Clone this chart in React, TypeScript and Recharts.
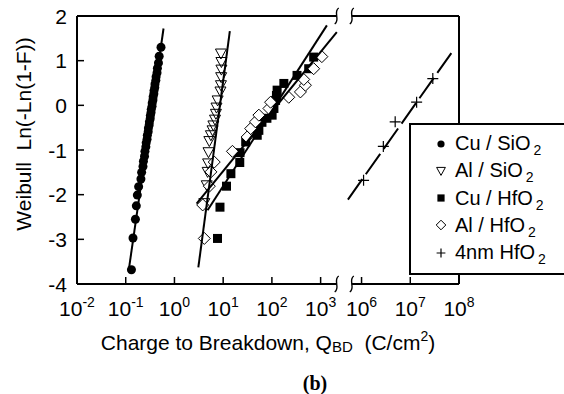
import React from 'react';
import {
  ComposedChart,
  Scatter,
  XAxis,
  YAxis,
  ReferenceLine,
  ReferenceDot,
  Legend,
} from 'recharts';

const FONT = '"Liberation Sans", Arial, Helvetica, sans-serif';

// x axis is log10(Q) with a break between 10^3 and 10^6
const xTickExp = [-2, -1, 0, 1, 2, 3, 6, 7, 8];
const yTicks = [-4, -3, -2, -1, 0, 1, 2];
const GAP = 0.84;             // width of the cut-out part, in decades
const X_MAX = 8 - 1 + GAP;
const breakPos = [5.33, 5.64];

// Cu / SiO2
const cuSiO2Q = [0.131, 0.141, 0.158, 0.165, 0.173, 0.184, 0.205, 0.212, 0.226, 0.231, 0.243, 0.248, 0.259,
  0.263, 0.274, 0.278, 0.289, 0.292, 0.303, 0.306, 0.318, 0.320, 0.331, 0.334, 0.347, 0.349, 0.362, 0.365,
  0.378, 0.381, 0.395, 0.399, 0.415, 0.420, 0.439, 0.447, 0.470, 0.486, 0.530];
const cuSiO2W = [-3.68, -2.97, -2.55, -2.25, -2.01, -1.82, -1.65, -1.50, -1.37, -1.25, -1.14, -1.03, -0.93,
  -0.84, -0.76, -0.67, -0.59, -0.51, -0.44, -0.37, -0.30, -0.23, -0.16, -0.09, -0.02, 0.05, 0.12, 0.19,
  0.26, 0.33, 0.40, 0.48, 0.56, 0.64, 0.73, 0.83, 0.95, 1.10, 1.30];

// Al / SiO2
const alSiO2Q = [9.0, 9.2, 9.2, 9.1, 9.0, 8.8, 7.7, 7.3, 7.1, 6.8, 6.3, 6.05, 5.6, 5.2, 5.0, 4.9, 4.8, 4.6, 4.1];
const alSiO2W = [1.16, 0.97, 0.80, 0.63, 0.45, 0.31, 0.11, -0.05, -0.19, -0.32, -0.45, -0.56, -0.67, -0.80,
  -1.05, -1.30, -1.49, -1.79, -2.19];

// Cu / HfO2
const cuHfO2Q = [7.65, 8.6, 11.7, 14.4, 21.9, 22.2, 29, 50, 54, 62.5, 79, 101, 110, 119, 124, 128, 176, 328, 569, 720];
const cuHfO2W = [-2.98, -2.28, -1.81, -1.53, -1.28, -1.06, -0.82, -0.67, -0.56, -0.38, -0.29, -0.22, -0.07,
  0.11, 0.22, 0.34, 0.49, 0.67, 0.82, 1.08];

// Al / HfO2
const alHfO2Q = [4.1, 3.8, 5.2, 5.6, 6.55, 15.5, 31, 36.7, 46, 54, 87, 94, 222, 385, 487, 450, 720, 1060];
const alHfO2W = [-2.98, -2.23, -1.81, -1.49, -1.27, -1.03, -0.71, -0.52, -0.37, -0.22, -0.07, 0.07, 0.18,
  0.30, 0.45, 0.58, 0.82, 1.09];

// 4nm HfO2
const hfo2Q = [1.1e6, 2.8e6, 4.9e6, 1.35e7, 2.9e7];
const hfo2W = [-1.68, -0.92, -0.37, 0.07, 0.60];

// fitted lines (end points)
const cuSiO2FitQ = [0.115, 0.597];
const cuSiO2FitW = [-3.7, 1.72];
const alSiO2FitQ = [3.09, 13.7];
const alSiO2FitW = [-3.63, 1.66];
const cuHfO2FitQ = [4.78, 1345];
const cuHfO2FitW = [-2.35, 1.79];
const alHfO2FitQ = [2.85, 2150];
const alHfO2FitW = [-2.2, 1.64];
const hfo2FitQ = [5.25e5, 6.96e7];
const hfo2FitW = [-2.11, 1.17];

const legendNames = ['Cu / SiO', 'Al / SiO', 'Cu / HfO', 'Al / HfO', '4nm HfO'];
const legendMarks = ['dot', 'tri', 'sq', 'dia', 'plus'];

const pos = (q: number) => {
  const e = Math.log10(q);
  return e < 4.5 ? e + 2 : e - 1 + GAP;
};
const expToPos = (e: number) => (e <= 3 ? e + 2 : e - 1 + GAP);
const toPoints = (q: number[], w: number[]) => q.map((v, i) => ({ x: pos(v), y: w[i] }));

const Mark = ({ kind, cx, cy, s = 1 }: { kind: string; cx: number; cy: number; s?: number }) => {
  if (kind === 'dot') return <circle cx={cx} cy={cy} r={4.5 * s} fill="#000" />;
  if (kind === 'tri')
    return (
      <path
        d={`M${cx - 5.5 * s},${cy - 4.5 * s}L${cx + 5.5 * s},${cy - 4.5 * s}L${cx},${cy + 5.5 * s}Z`}
        fill="none"
        stroke="#000"
        strokeWidth={1}
      />
    );
  if (kind === 'sq') return <rect x={cx - 4.5 * s} y={cy - 4.5 * s} width={9 * s} height={9 * s} fill="#000" />;
  if (kind === 'dia')
    return (
      <path
        d={`M${cx},${cy - 6 * s}L${cx + 6 * s},${cy}L${cx},${cy + 6 * s}L${cx - 6 * s},${cy}Z`}
        fill="#fff"
        stroke="#000"
        strokeWidth={1}
      />
    );
  return (
    <path
      d={`M${cx - 5.5 * s},${cy}H${cx + 5.5 * s}M${cx},${cy - 5.5 * s}V${cy + 5.5 * s}`}
      stroke="#000"
      strokeWidth={1.2}
    />
  );
};

const shapeOf = (kind: string) => (p: any) => <Mark kind={kind} cx={p.cx} cy={p.cy} />;
const NoShape = () => <g />;

const BreakMark = (p: any) => (
  <path
    d={`M${p.cx + 2},${p.cy - 8}C${p.cx - 4},${p.cy - 4} ${p.cx + 4},${p.cy + 4} ${p.cx - 2},${p.cy + 8}`}
    fill="none"
    stroke="#000"
    strokeWidth={1.4}
  />
);

const XTick = (props: any) => {
  const { x, y, payload } = props;
  const v = payload.value;
  const e = Math.round(v <= 5.01 ? v - 2 : v + 1 - GAP);
  return (
    <g>
      <line x1={x} x2={x} y1={y} y2={y - 7} stroke="#000" strokeWidth={1.5} />
      <text x={x} y={y + 32} textAnchor="middle" fontFamily={FONT} fontSize={21} fill="#000">
        10
        <tspan dy={-9} fontSize={14}>
          {e}
        </tspan>
      </text>
    </g>
  );
};

const YTick = (props: any) => {
  const { x, y, payload } = props;
  return (
    <g>
      <line x1={x} x2={x + 7} y1={y} y2={y} stroke="#000" strokeWidth={1.5} />
      <text x={x - 10} y={y + 7.5} textAnchor="end" fontFamily={FONT} fontSize={21} fill="#000">
        {payload.value}
      </text>
    </g>
  );
};

const XTitle = () => (
  <g>
    <text x={268} y={350} textAnchor="middle" fontFamily={FONT} fontSize={21} fill="#000">
      Charge to Breakdown, Q
      <tspan fontSize={15} dy={2}>
        BD
      </tspan>
      <tspan dy={-2}>{'\u00a0\u00a0(C/cm'}</tspan>
      <tspan dy={-9} fontSize={14}>
        2
      </tspan>
      <tspan dy={9}>)</tspan>
    </text>
    <text
      x={315}
      y={390}
      textAnchor="middle"
      fontFamily='"Liberation Serif", "Times New Roman", serif'
      fontWeight="bold"
      fontSize={20}
      fill="#000"
    >
      (b)
    </text>
  </g>
);

const YTitle = () => (
  <text
    x={23}
    y={134}
    transform="rotate(-90, 23, 134)"
    textAnchor="middle"
    dominantBaseline="central"
    fontFamily={FONT}
    fontSize={21}
    fill="#000"
  >
    {'Weibull\u00a0\u00a0Ln(-Ln(1-F))'}
  </text>
);

const LegendBox = () => (
  <div
    style={{
      width: 160,
      height: 152,
      boxSizing: 'border-box',
      border: '2px solid #000',
      background: '#fff',
      fontFamily: FONT,
      fontSize: 20,
      paddingTop: 5,
    }}
  >
    {legendNames.map((name, i) => (
      <div key={name} style={{ height: 27.25, display: 'flex', alignItems: 'center' }}>
        <svg width={42} height={16} style={{ flex: 'none' }}>
          <Mark kind={legendMarks[i]} cx={30} cy={8} s={0.8} />
        </svg>
        <span style={{ whiteSpace: 'nowrap', marginLeft: 2 }}>
          {name}
          <span style={{ fontSize: 14, position: 'relative', top: 5, marginLeft: 3 }}>2</span>
        </span>
      </div>
    ))}
  </div>
);

export default function App() {
  return (
    <div style={{ position: 'absolute', left: 0, top: 0, width: 564, height: 394, overflow: 'hidden' }}>
      <ComposedChart width={564} height={394} margin={{ top: 16, right: 105, bottom: 70, left: 17 }}>
        <XAxis
          type="number"
          dataKey="x"
          domain={[0, X_MAX]}
          ticks={xTickExp.map(expToPos)}
          interval={0}
          allowDataOverflow
          height={40}
          axisLine={false}
          tickLine={false}
          tickSize={0}
          tickMargin={0}
          tick={XTick}
          label={XTitle}
        />
        <YAxis
          type="number"
          dataKey="y"
          domain={[-4, 2]}
          ticks={yTicks}
          interval={0}
          allowDataOverflow
          width={60}
          axisLine={{ stroke: '#000', strokeWidth: 2 }}
          tickLine={false}
          tickSize={0}
          tickMargin={0}
          tick={YTick}
          label={YTitle}
        />

        <ReferenceLine segment={[{ x: 0, y: 2 }, { x: breakPos[0], y: 2 }]} stroke="#000" strokeWidth={2} />
        <ReferenceLine segment={[{ x: breakPos[1], y: 2 }, { x: X_MAX, y: 2 }]} stroke="#000" strokeWidth={2} />
        <ReferenceLine segment={[{ x: 0, y: -4 }, { x: breakPos[0], y: -4 }]} stroke="#000" strokeWidth={2} />
        <ReferenceLine segment={[{ x: breakPos[1], y: -4 }, { x: X_MAX, y: -4 }]} stroke="#000" strokeWidth={2} />
        <ReferenceLine segment={[{ x: X_MAX, y: -4 }, { x: X_MAX, y: 2 }]} stroke="#000" strokeWidth={2} />
        {breakPos.map((b) => (
          <ReferenceDot key={`t${b}`} x={b} y={2} ifOverflow="visible" shape={BreakMark} />
        ))}
        {breakPos.map((b) => (
          <ReferenceDot key={`b${b}`} x={b} y={-4} ifOverflow="visible" shape={BreakMark} />
        ))}

        <Scatter name="Cu / SiO2" data={toPoints(cuSiO2Q, cuSiO2W)} shape={shapeOf('dot')} isAnimationActive={false} />
        <Scatter name="Al / SiO2" data={toPoints(alSiO2Q, alSiO2W)} shape={shapeOf('tri')} isAnimationActive={false} />
        <Scatter name="Cu / HfO2" data={toPoints(cuHfO2Q, cuHfO2W)} shape={shapeOf('sq')} isAnimationActive={false} />
        <Scatter name="Al / HfO2" data={toPoints(alHfO2Q, alHfO2W)} shape={shapeOf('dia')} isAnimationActive={false} />
        <Scatter name="4nm HfO2" data={toPoints(hfo2Q, hfo2W)} shape={shapeOf('plus')} isAnimationActive={false} />

        {[
          [cuSiO2FitQ, cuSiO2FitW],
          [alSiO2FitQ, alSiO2FitW],
          [cuHfO2FitQ, cuHfO2FitW],
          [alHfO2FitQ, alHfO2FitW],
        ].map(([q, w], i) => (
          <Scatter
            key={`fit${i}`}
            data={toPoints(q, w)}
            line={{ stroke: '#000', strokeWidth: 2 }}
            shape={NoShape}
            legendType="none"
            isAnimationActive={false}
          />
        ))}
        <Scatter
          data={toPoints(hfo2FitQ, hfo2FitW)}
          line={{ stroke: '#000', strokeWidth: 2, strokeDasharray: '25 6' }}
          shape={NoShape}
          legendType="none"
          isAnimationActive={false}
        />

        <Legend
          layout="vertical"
          align="center"
          verticalAlign="middle"
          wrapperStyle={{ left: 409, top: 123, width: 160, height: 152 }}
          content={LegendBox}
        />
      </ComposedChart>
    </div>
  );
}
